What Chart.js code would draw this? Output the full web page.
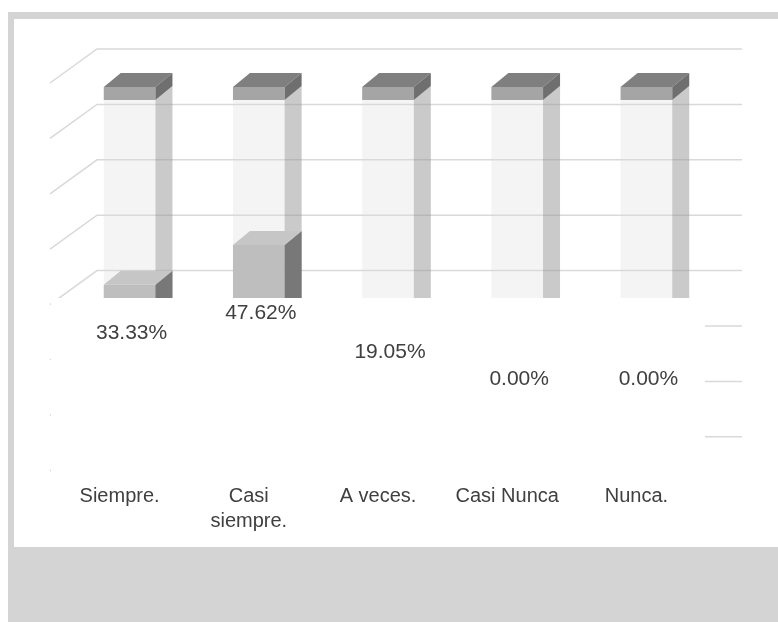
<!DOCTYPE html>
<html>
<head>
<meta charset="utf-8">
<script src="https://cdn.jsdelivr.net/npm/chart.js@4/dist/chart.umd.min.js"></script>
<style>
html, body { margin: 0; padding: 0; background: #fff; }
</style>
</head>
<body>
<canvas id="myChart" width="778" height="622"></canvas>
<script>
var categorias = ["Siempre.", ["Casi", "siempre."], "A veces.", "Casi Nunca", "Nunca."];
var porcentajes = [33.33, 47.62, 19.05, 0.00, 0.00];
var fondo = [100, 100, 100, 100, 100];
var lineasPared = [100, 80, 60, 40, 20, 0, -20, -40];

var FUENTE = '"Liberation Sans", Arial, sans-serif';
var TEXTO = '#404040';

// profundidad de las barras 3d
var DX = 17, DY = 14, CAP = 13;

var barra3d = {
    id: 'barra3d',
    beforeDraw: function (chart) {
        var c = chart.ctx;
        c.save();
        c.fillStyle = '#d4d4d4';
        c.fillRect(8, 12, 770, 610);
        c.fillStyle = '#ffffff';
        c.fillRect(14, 19, 764, 528);
        c.restore();
    },
    beforeDatasetsDraw: function (chart) {
        var c = chart.ctx, y = chart.scales.y, a = chart.chartArea;
        c.save();
        c.strokeStyle = '#d9d9d9';
        c.lineWidth = 1.5;
        lineasPared.forEach(function (v) {
            var py = y.getPixelForValue(v);
            c.beginPath();
            c.moveTo(a.left - 15, py - 17);
            c.lineTo(a.left + 32, py - 51);
            c.lineTo(a.right + 31, py - 51);
            c.stroke();
        });
        c.restore();
    },
    afterDatasetsDraw: function (chart) {
        var c = chart.ctx, a = chart.chartArea;
        var atras = chart.getDatasetMeta(1).data;
        var llenas = chart.getDatasetMeta(0).data;
        c.save();
        // columnas de fondo (tapa + lado)
        atras.forEach(function (b) {
            var l = b.x - b.width / 2, r = b.x + b.width / 2, t = b.y;
            c.fillStyle = 'rgba(150,150,150,0.5)';
            poly(c, [[r, t], [r + DX, t - DY], [r + DX, b.base - DY], [r, b.base]]);
            c.fillStyle = '#a5a5a5';
            c.fillRect(l, t - CAP, b.width, CAP);
            c.fillStyle = '#7f7f7f';
            poly(c, [[l, t - CAP], [l + DX, t - CAP - DY], [r + DX, t - CAP - DY], [r, t - CAP]]);
            c.fillStyle = '#6f6f6f';
            poly(c, [[r, t - CAP], [r + DX, t - CAP - DY], [r + DX, t - DY], [r, t]]);
        });
        // columnas con valor
        llenas.forEach(function (b, i) {
            if (porcentajes[i] <= 0) return;
            var l = b.x - b.width / 2, r = b.x + b.width / 2, t = b.y;
            c.fillStyle = '#787878';
            poly(c, [[r, t], [r + DX, t - DY], [r + DX, b.base - DY], [r, b.base]]);
            c.fillStyle = '#c6c6c6';
            poly(c, [[l, t], [l + DX, t - DY], [r + DX, t - DY], [r, t]]);
        });
        // recuadro blanco que tapa la parte baja
        c.fillStyle = '#ffffff';
        c.fillRect(a.left - 14, 298, a.right - 6 - (a.left - 14), 249);
        c.restore();
    },
    afterDraw: function (chart) {
        var c = chart.ctx, y2 = chart.scales.y2;
        var meta = chart.getDatasetMeta(0);
        c.save();
        c.font = '21px ' + FUENTE;
        c.fillStyle = TEXTO;
        c.textAlign = 'center';
        c.textBaseline = 'middle';
        porcentajes.forEach(function (v, i) {
            c.fillText(v.toFixed(2) + '%', meta.data[i].x + 2, y2.getPixelForValue(v) + 2);
        });
        c.restore();
    }
};

function poly(c, pts) {
    c.beginPath();
    c.moveTo(pts[0][0], pts[0][1]);
    for (var i = 1; i < pts.length; i++) c.lineTo(pts[i][0], pts[i][1]);
    c.closePath();
    c.fill();
}

var ctx = document.getElementById('myChart').getContext('2d');
var chart = new Chart(ctx, {
    type: 'bar',
    data: {
        labels: categorias,
        datasets: [{
            label: 'Porcentaje',
            data: porcentajes,
            backgroundColor: '#bebebe',
            grouped: false,
            barPercentage: 0.4,
            categoryPercentage: 1
        }, {
            label: 'Total',
            data: fondo,
            backgroundColor: 'rgba(220,220,220,0.3)',
            grouped: false,
            barPercentage: 0.4,
            categoryPercentage: 1
        }]
    },
    options: {
        responsive: false,
        animation: false,
        devicePixelRatio: 1,
        layout: { padding: { left: 65, right: 67, top: 100, bottom: 90 } },
        plugins: { legend: { display: false }, tooltip: { enabled: false } },
        scales: {
            x: {
                grid: { display: false, drawTicks: false },
                border: { display: false },
                afterFit: function (s) {
                    s.height = 155;
                    s.paddingLeft = 0;
                    s.paddingRight = 0;
                },
                ticks: {
                    z: 1,
                    color: TEXTO,
                    font: { family: FUENTE, size: 20, lineHeight: 1.25 },
                    padding: 107,
                    labelOffset: -10,
                    maxRotation: 0,
                    autoSkip: false
                }
            },
            y: { display: false, min: 0, max: 100 },
            y2: { display: false, min: 0, max: 200 }
        }
    },
    plugins: [barra3d]
});
</script>
</body>
</html>
